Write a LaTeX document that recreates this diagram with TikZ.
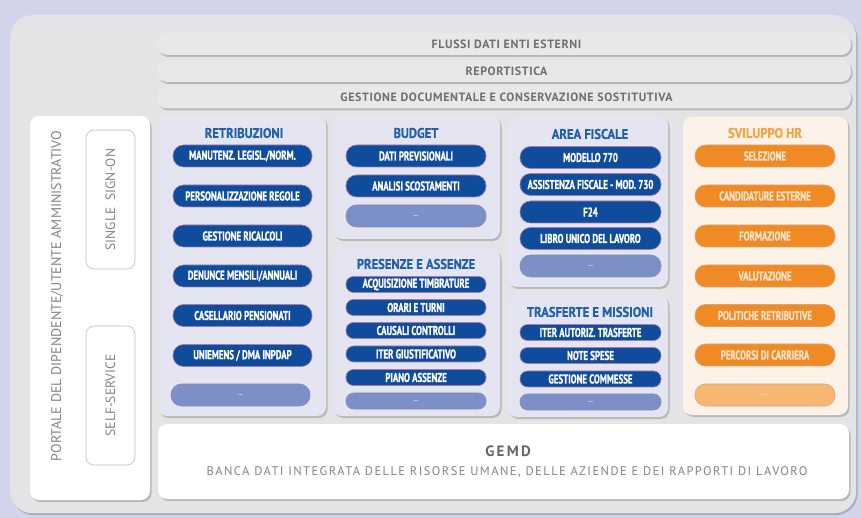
\documentclass[tikz,border=0pt]{standalone}
\usepackage{fontspec}
\setmainfont{PT Sans}
\newfontfamily\condf[FakeStretch=0.69,FakeBold=1.2]{PT Sans}
\newfontfamily\titlef[FakeStretch=0.9,FakeBold=0.6]{PT Sans}
\newfontfamily\barf[LetterSpace=5]{PT Sans}
\newfontfamily\gemdf[LetterSpace=15]{PT Sans}
\newfontfamily\subf[LetterSpace=11.5]{PT Sans}
\usetikzlibrary{shadows}
\definecolor{bgout}{HTML}{D2D5E9}
\definecolor{panel}{HTML}{E4E4E7}
\definecolor{barfill}{HTML}{E8E8EA}
\definecolor{bartext}{HTML}{6F6F72}
\definecolor{modfill}{HTML}{E4E5F1}
\definecolor{pillblue}{HTML}{0F4C9C}
\definecolor{pilledge}{HTML}{A67BB5}
\definecolor{dotsblue}{HTML}{7D8FC7}
\definecolor{titleblue}{HTML}{2160AC}
\definecolor{hrfill}{HTML}{FCF2E7}
\definecolor{orangepill}{HTML}{F08A24}
\definecolor{orangeedge}{HTML}{D9A578}
\definecolor{orangelight}{HTML}{F8B673}
\definecolor{orangetitle}{HTML}{F5A445}
\definecolor{graytext}{HTML}{858589}
\begin{document}
\begin{tikzpicture}[x=1pt,y=-1pt,
  shd/.style={drop shadow={shadow xshift=1.5pt,shadow yshift=-2pt,opacity=0.35,fill=black!60}},
  bar/.style={shd, fill=barfill, rounded corners=10pt, minimum width=694pt, minimum height=22pt,
    inner sep=0pt, outer sep=0pt, text=bartext, font=\barf\bfseries\fontsize{12}{13}\selectfont},
  module/.style={shd, fill=modfill, rounded corners=9pt, inner sep=0pt, outer sep=0pt, anchor=north west},
  hrmodule/.style={module, fill=hrfill},
  mtitle/.style={text=titleblue, font=\titlef\bfseries\fontsize{14}{16}\selectfont, inner sep=0pt},
  otitle/.style={text=orangetitle, font=\titlef\bfseries\fontsize{14}{16}\selectfont, inner sep=0pt},
  pill/.style={fill=pillblue, draw=pilledge, line width=0.6pt, text=white, rounded corners=10.5pt,
    minimum height=22pt, minimum width=139pt, inner sep=0pt, font=\condf\bfseries\fontsize{12.8}{13}\selectfont},
  spill/.style={pill, minimum height=16pt, rounded corners=7.5pt},
  dots/.style={pill, fill=dotsblue, draw=dotsblue!80!pilledge, text=white!80!dotsblue, font=\bfseries\fontsize{7}{8}\selectfont},
  sdots/.style={dots, minimum height=16pt, rounded corners=7.5pt},
  opill/.style={pill, fill=orangepill, draw=orangeedge, text=white!75!orangepill},
  odots/.style={opill, fill=orangelight, draw=orangeedge, text=white!75!orangelight, font=\bfseries\fontsize{7}{8}\selectfont},
  wbox/.style={shd, fill=white, rounded corners=9pt, inner sep=0pt, outer sep=0pt, anchor=north west},
  ssbox/.style={fill=white, draw=black!25, line width=0.6pt, rounded corners=8pt, inner sep=0pt,
    text=graytext, font=\fontsize{13.5}{15}\selectfont},
]
\useasboundingbox (0,0) rectangle (862,518);
\fill[bgout] (0,0) rectangle (862,518);
\node[shd, fill=panel, rounded corners=22pt, minimum width=846pt, minimum height=498pt,
  inner sep=0pt, anchor=north west] (panel) at (10,15) {};

% top bars
\node[bar] (flussi) at (504,44) {\hspace*{5pt}FLUSSI DATI ENTI ESTERNI};
\node[bar] (report) at (504,71) {\hspace*{5pt}REPORTISTICA};
\node[bar] (gestdoc) at (504,97.5) {\hspace*{5pt}GESTIONE DOCUMENTALE E CONSERVAZIONE SOSTITUTIVA};

% portal
\node[wbox, minimum width=120pt, minimum height=384pt] (portal) at (30,116) {};
\node[rotate=90, text=graytext, font=\fontsize{14}{16}\selectfont, inner sep=0pt] (portalT) at (57,296)
  {PORTALE DEL DIPENDENTE/UTENTE AMMINISTRATIVO};
\node[ssbox, rotate=90, minimum width=139pt, minimum height=49pt] (sso) at (110.5,199.5) {SINGLE\ \ SIGN-ON};
\node[ssbox, rotate=90, minimum width=139pt, minimum height=49pt] (self) at (110.5,395.5) {SELF-SERVICE};

% retribuzioni
\node[module, minimum width=168pt, minimum height=301pt] (ret) at (158,115) {};
\node[mtitle] (retT) at (244,133) {RETRIBUZIONI};
\node[pill] (ret1) at (242.5,156) {MANUTENZ. LEGISL./NORM.};
\node[pill] (ret2) at (242.5,196) {PERSONALIZZAZIONE REGOLE};
\node[pill] (ret3) at (242.5,236) {GESTIONE RICALCOLI};
\node[pill] (ret4) at (242.5,276) {DENUNCE MENSILI/ANNUALI};
\node[pill] (ret5) at (242.5,315.5) {CASELLARIO PENSIONATI};
\node[pill] (ret6) at (242.5,355.5) {UNIEMENS / DMA INPDAP};
\node[dots] (ret7) at (240.5,395) {...};

% budget
\node[module, minimum width=167pt, minimum height=124pt] (bud) at (333,115) {};
\node[mtitle] (budT) at (416,133) {BUDGET};
\node[pill, minimum width=140pt] (bud1) at (416,156) {DATI PREVISIONALI};
\node[pill, minimum width=140pt] (bud2) at (416,186) {ANALISI SCOSTAMENTI};
\node[dots, minimum width=140pt] (bud3) at (416,216) {...};

% presenze
\node[module, minimum width=167pt, minimum height=168pt] (pres) at (333,248) {};
\node[mtitle] (presT) at (416,264) {PRESENZE E ASSENZE};
\node[spill, minimum width=140pt] (pres1) at (416,284.5) {ACQUISIZIONE TIMBRATURE};
\node[spill, minimum width=140pt] (pres2) at (416,307.5) {ORARI E TURNI};
\node[spill, minimum width=140pt] (pres3) at (416,330.5) {CAUSALI CONTROLLI};
\node[spill, minimum width=140pt] (pres4) at (416,354) {ITER GIUSTIFICATIVO};
\node[spill, minimum width=140pt] (pres5) at (416,377.5) {PIANO ASSENZE};
\node[sdots, minimum width=140pt] (pres6) at (416,401) {...};

% area fiscale
\node[module, minimum width=160pt, minimum height=171pt] (fis) at (508,116) {};
\node[mtitle] (fisT) at (590,134) {AREA FISCALE};
\node[pill, minimum width=141pt] (fis1) at (590.5,157.5) {MODELLO 770};
\node[pill, minimum width=141pt] (fis2) at (590.5,184.5) {ASSISTENZA FISCALE - MOD. 730};
\node[pill, minimum width=141pt] (fis3) at (590.5,212) {F24};
\node[pill, minimum width=141pt] (fis4) at (590.5,238.5) {LIBRO UNICO DEL LAVORO};
\node[dots, minimum width=141pt] (fis5) at (590.5,266) {...};

% trasferte
\node[module, minimum width=160pt, minimum height=122pt] (tra) at (508,295) {};
\node[mtitle] (traT) at (590,312) {TRASFERTE E MISSIONI};
\node[spill, minimum width=141pt] (tra1) at (590.5,332.5) {ITER AUTORIZ. TRASFERTE};
\node[spill, minimum width=141pt] (tra2) at (590.5,355.5) {NOTE SPESE};
\node[spill, minimum width=141pt] (tra3) at (590.5,379) {GESTIONE COMMESSE};
\node[sdots, minimum width=141pt] (tra4) at (590.5,402) {...};

% sviluppo hr
\node[hrmodule, minimum width=165pt, minimum height=298pt] (hr) at (683,117) {};
\node[otitle] (hrT) at (765,133) {SVILUPPO HR};
\node[opill, minimum width=140pt] (hr1) at (765,156) {SELEZIONE};
\node[opill, minimum width=140pt] (hr2) at (765,196) {CANDIDATURE ESTERNE};
\node[opill, minimum width=140pt] (hr3) at (765,236) {FORMAZIONE};
\node[opill, minimum width=140pt] (hr4) at (765,276) {VALUTAZIONE};
\node[opill, minimum width=140pt] (hr5) at (765,315.5) {POLITICHE RETRIBUTIVE};
\node[opill, minimum width=140pt] (hr6) at (765,355) {PERCORSI DI CARRIERA};
\node[odots, minimum width=140pt] (hr7) at (765,395) {...};

% GEMD
\node[wbox, minimum width=691pt, minimum height=75pt] (gemd) at (158,424) {};
\node[text=black!60, font=\gemdf\bfseries\fontsize{15}{17}\selectfont, inner sep=0pt] (gemdT) at (508,451) {GEMD};
\node[text=graytext, font=\subf\fontsize{12.5}{15}\selectfont, inner sep=0pt] (gemdS) at (507,471.5)
  {BANCA DATI INTEGRATA DELLE RISORSE UMANE, DELLE AZIENDE E DEI RAPPORTI DI LAVORO};
\end{tikzpicture}
\end{document}
